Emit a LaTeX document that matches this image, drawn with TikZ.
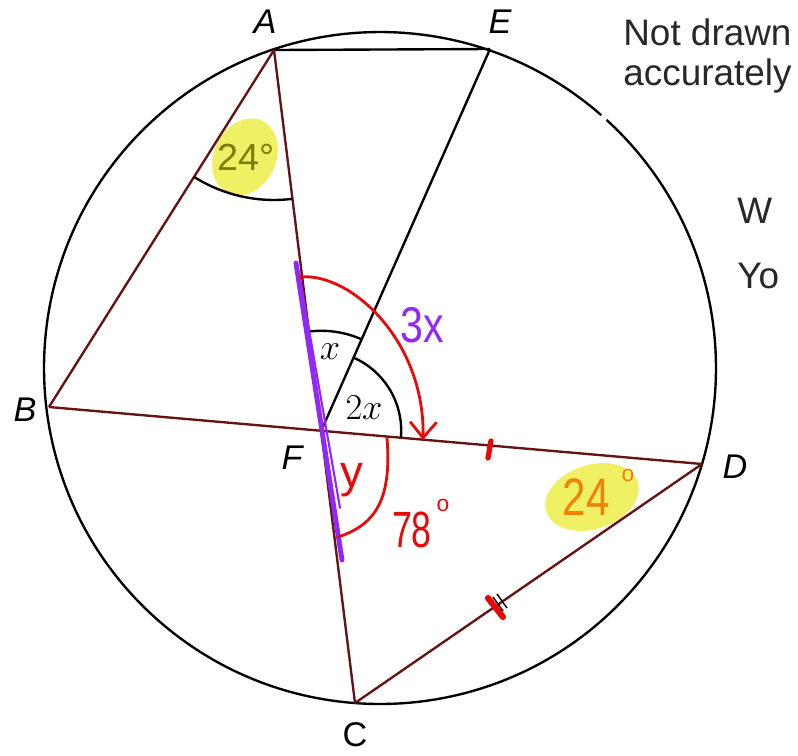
\documentclass[tikz,border=0pt]{standalone}
\usepackage{fontspec}
\setmainfont{Liberation Sans}
\usetikzlibrary{angles,arrows.meta}

\definecolor{hlyellow}{RGB}{240,240,100}
\definecolor{olivetxt}{RGB}{125,125,10}
\definecolor{penorange}{RGB}{240,130,10}
\definecolor{penred}{RGB}{232,10,10}
\definecolor{penpurple}{RGB}{145,40,245}
\definecolor{segred}{RGB}{100,20,20}
\definecolor{notetxt}{RGB}{40,40,40}

\begin{document}
\begin{tikzpicture}[x=0.02cm, y=-0.02cm,
    lbl/.style  = {font=\fontsize{19.5}{23}\selectfont\itshape},
    note/.style = {anchor=base west, inner sep=0pt, text=notetxt,
                   font=\fontsize{21}{25}\selectfont},
    blk/.style  = {draw=black, line width=1.35pt},
    seg/.style  = {draw=segred, line width=1.35pt},
    pen/.style  = {draw=penred, line width=1.6pt, line cap=round},
    hand/.style = {inner sep=0pt, font=\fontsize{26}{30}\selectfont},
  ]
    \useasboundingbox (0,0) rectangle (798,755);

    % points on the circle
    \coordinate (O) at (380,368);
    \coordinate (A) at (274,50);
    \coordinate (E) at (490,49);
    \coordinate (B) at (49,407);
    \coordinate (C) at (355,703);
    \coordinate (D) at (702,464);
    \coordinate (F) at (intersection of A--C and B--D);

    % highlighter
    \fill[hlyellow, rotate around={-25:(245,157)}] (245,157) ellipse [x radius=31, y radius=40];
    \fill[hlyellow, rotate around={18:(592,497)}] (592,497) ellipse [x radius=48, y radius=32];

    \draw[blk] (O) ++(-47.6:336) arc[start angle=-47.6, end angle=311.2, radius=336];

    \draw[blk] (A) -- (E);
    \draw[blk] (E) -- (F);
    \draw[seg] (A) -- (B);
    \draw[seg] (B) -- (D);
    \draw[seg] (D) -- (C);
    \draw[seg] (A) -- (C);

    \pic[draw, line width=1.35pt, angle radius=3cm]   {angle = B--A--C};
    \pic[draw, line width=1.35pt, angle radius=2cm]   {angle = E--F--A};
    \pic[draw, line width=1.35pt, angle radius=1.6cm] {angle = D--F--E};

    \node[lbl] (lA) at (265,22)  {A};
    \node[lbl] (lE) at (500,22)  {E};
    \node[lbl] (lB) at (25,410)  {B};
    \node[lbl] (lF) at (292,458) {F};
    \node[lbl] (lD) at (735,467) {D};
    \node[font=\fontsize{19.5}{23}\selectfont] (lC) at (355,735) {C};

    \node[font=\fontsize{22.5}{26}\selectfont] (ax)  at (330,352) {$x$};
    \node[font=\fontsize{22.5}{26}\selectfont] (a2x) at (364,408) {$2x$};
    \node[text=olivetxt, font=\fontsize{21.5}{26}\selectfont] (a24) at (246,157) {24°};

    \node[note] (nd1) at (623,45)  {Not drawn};
    \node[note] (nd2) at (623,85)  {accurately};
    \node[note] (qw)  at (737,223) {W};
    \node[note] (qy)  at (737,288) {Yo};

    % pen marks
    \draw[penpurple, line width=2.8pt, line cap=round] (296,263) -- (342,560);
    \draw[penpurple, line width=1.2pt, line cap=round] (299,272) -- (340,508);

    \draw[pen, -{Straight Barb[length=9pt, width=15pt]}]
      (300,277) .. controls (350,272) and (425,340) .. (423,440);
    \draw[pen] (387,438) .. controls (392,500) and (375,525) .. (338,537);

    \node[hand, text=penpurple] (t3x) at (422,325) {\scalebox{0.9}[1.1]{3x}};
    \node[hand, text=penred]    (ty)  at (352,480) {y};
    \node[hand, text=penred, font=\fontsize{29}{34}\selectfont] (t78) at (412,530) {\scalebox{0.7}[1]{78}};
    \node[hand, text=penred, font=\fontsize{13}{15}\selectfont] (t78o) at (443,505) {o};
    \node[hand, text=penorange, font=\fontsize{30}{35}\selectfont] (t24) at (586,497) {\scalebox{0.8}[1]{24}};
    \node[hand, text=penorange, font=\fontsize{13}{15}\selectfont] (t24o) at (628,475) {o};

    \draw[penred, line width=3pt, line cap=round] (491,441) -- (488,458);
    \draw[black, line width=0.8pt] (493,597) -- (503,611);
    \draw[black, line width=0.8pt] (497,594) -- (507,608);
    \draw[penred, line width=3.5pt, line cap=round] (488,598) -- (503,617);
  \end{tikzpicture}
\end{document}
